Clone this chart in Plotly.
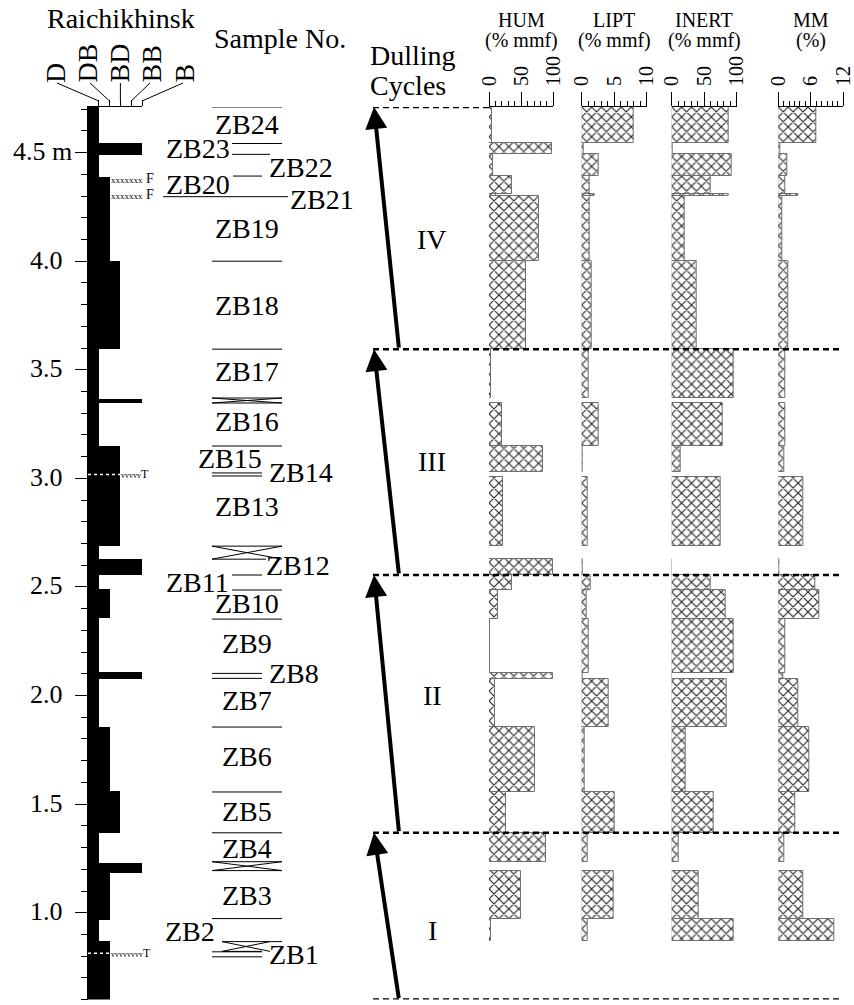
import plotly.graph_objects as go

W, H = 854, 1005
FONT = "'Liberation Serif', 'Times New Roman', Times, serif"

# ---------------------------------------------------------------- data
DEPTH_TOP = 4.71
DEPTH_BOTTOM = 0.60

# lithotype classes from dull to bright
LITHO_CLASSES = ["D", "DB", "BD", "BB", "B"]

litho_top = [4.710, 4.542, 4.490, 4.389, 4.000, 3.595, 3.367, 3.345, 3.149, 2.688, 2.628, 2.555,
             2.489, 2.355, 2.109, 2.076, 1.856, 1.562, 1.368, 1.230, 1.184, 0.966, 0.870]
litho_base = [4.542, 4.490, 4.389, 4.000, 3.595, 3.367, 3.345, 3.149, 2.688, 2.628, 2.555, 2.489,
              2.355, 2.109, 2.076, 1.856, 1.562, 1.368, 1.230, 1.184, 0.966, 0.870, 0.600]
litho_class = ["D", "B", "D", "DB", "BD", "D", "B", "D", "BD", "D", "B", "D",
               "DB", "D", "B", "D", "DB", "BD", "D", "B", "DB", "D", "DB"]

# analysed samples: interval (m) and maceral / mineral matter composition
samples = ["ZB24", "ZB23", "ZB22", "ZB20", "ZB21", "ZB19", "ZB18", "ZB17", "ZB16", "ZB15", "ZB13",
           "ZB12", "ZB11", "ZB10", "ZB9", "ZB8", "ZB7", "ZB6", "ZB5", "ZB4", "ZB3", "ZB2"]
sample_top = [4.710, 4.542, 4.492, 4.392, 4.308, 4.302, 4.000, 3.595, 3.347, 3.149, 3.007,
              2.628, 2.555, 2.486, 2.352, 2.104, 2.076, 1.855, 1.556, 1.368, 1.194, 0.973]
sample_base = [4.542, 4.492, 4.392, 4.308, 4.302, 4.000, 3.595, 3.370, 3.149, 3.029, 2.688,
               2.555, 2.486, 2.352, 2.104, 2.076, 1.855, 1.556, 1.368, 1.235, 0.973, 0.871]
hum = [4, 98, 6, 36, 11, 78, 57, 3, 20, 84, 22, 99, 36, 14, 2, 99, 10, 72, 26, 88, 50, 3]
lipt = [8.0, 0.3, 2.6, 1.3, 2.0, 1.2, 1.6, 1.0, 2.6, 0.2, 0.9, 0.1, 1.4, 0.8, 1.0, 0.1, 4.2, 0.5,
        5.0, 0.9, 4.9, 0.9]
inert = [87, 1, 92, 60, 87, 20.5, 39, 96, 78, 14, 75, 0.3, 60, 83.5, 96, 0.3, 85, 21.5, 64, 10,
         42, 96]
mm = [7.1, 0.3, 1.7, 1.2, 3.7, 0.8, 1.8, 1.2, 1.2, 1.1, 4.6, 0.1, 6.8, 7.6, 1.2, 0.9, 3.7, 5.7,
      3.1, 1.05, 4.7, 10.3]

# sample labels and their depth (m) in the sample column
label_names = ["ZB24", "ZB23", "ZB22", "ZB20", "ZB21", "ZB19", "ZB18", "ZB17", "ZB16", "ZB15",
               "ZB14", "ZB13", "ZB12", "ZB11", "ZB10", "ZB9", "ZB8", "ZB7", "ZB6", "ZB5", "ZB4",
               "ZB3", "ZB2", "ZB1"]
label_depth = [4.627, 4.516, 4.429, 4.350, 4.281, 4.148, 3.793, 3.489, 3.255, 3.089, 3.024, 2.867,
               2.596, 2.518, 2.417, 2.237, 2.099, 1.974, 1.716, 1.463, 1.293, 1.077, 0.907, 0.805]

# sample boundary lines (m) and unsampled partings (top, base, m)
boundary_depth = [4.710, 4.542, 4.492, 4.392, 4.297, 4.000, 3.595, 3.149, 3.025, 3.011, 2.555,
                  2.486, 2.352, 2.102, 2.079, 1.855, 1.556, 1.368, 0.973, 0.820, 0.797]
parting_top = [3.370, 2.688, 1.235, 0.867]
parting_base = [3.347, 2.628, 1.194, 0.822]

# depth axis labels
depth_ticks = [1.0, 1.5, 2.0, 2.5, 3.0, 3.5, 4.0, 4.5]
depth_tick_text = ["1.0", "1.5", "2.0", "2.5", "3.0", "3.5", "4.0", "4.5 m"]

# dulling cycles
cycle_names = ["IV", "III", "II", "I"]
cycle_top = [4.710, 3.595, 2.555, 1.368]
cycle_base = [3.595, 2.555, 1.368, 0.600]

# marker horizons: fusain (F) and tonstein (T)
fusain_depth = [4.381, 4.307]
tonstein_depth = [3.018, 0.813]

# ---------------------------------------------------------------- layout constants
Y_TOP_PX, Y_BOT_PX = 107.0, 999.6
Y_DOMAIN = [1 - Y_BOT_PX / H, 1 - Y_TOP_PX / H]
LITHO_X = (88.0, 142.0)
CLASS_INDEX = {c: i + 1 for i, c in enumerate(LITHO_CLASSES)}


def litho_px(k):
    return LITHO_X[0] + (LITHO_X[1] - LITHO_X[0]) * k / len(LITHO_CLASSES)


def mids(t, b):
    return [(a + c) / 2 for a, c in zip(t, b)]


def thick(t, b):
    return [max(a - c, 0.004) for a, c in zip(t, b)]


fig = go.Figure()

# canvas axes (pixel coordinates) for decorations
fig.add_trace(go.Scatter(x=[], y=[], xaxis="x6", yaxis="y6", showlegend=False, hoverinfo="skip"))

# lithology column
fig.add_trace(go.Bar(
    orientation="h", y=mids(litho_top, litho_base), width=thick(litho_top, litho_base),
    x=[CLASS_INDEX[c] for c in litho_class], base=0,
    marker=dict(color="black", line=dict(width=0)),
    xaxis="x", yaxis="y", showlegend=False, hoverinfo="skip"))

panels = [
    ("HUM", "(% mmf)", hum, 100, [0, 50, 100], 10, (489.0, 553.3), "x2"),
    ("LIPT", "(% mmf)", lipt, 10, [0, 5, 10], 1, (581.7, 646.7), "x3"),
    ("INERT", "(% mmf)", inert, 100, [0, 50, 100], 10, (671.7, 736.7), "x4"),
    ("MM", "(%)", mm, 12, [0, 6, 12], 1, (778.3, 843.3), "x5"),
]

hatch = dict(shape="x", fgcolor="#262626", bgcolor="white", size=7, solidity=0.3, fillmode="replace")

for name, unit, vals, vmax, ticks, mdt, (px0, px1), xa in panels:
    fig.add_trace(go.Bar(
        orientation="h", y=mids(sample_top, sample_base), width=thick(sample_top, sample_base),
        x=vals, base=0,
        marker=dict(color="white", pattern=hatch, line=dict(color="#707070", width=1)),
        xaxis=xa, yaxis="y", showlegend=False, hoverinfo="skip"))
    cx = (px0 + px1) / 2
    fig.add_annotation(x=cx, y=20, xref="x6", yref="y6", text=name, showarrow=False,
                       font=dict(family=FONT, size=20, color="black"))
    fig.add_annotation(x=cx, y=40, xref="x6", yref="y6", text=unit, showarrow=False,
                       font=dict(family=FONT, size=20, color="black"))
    fig.layout[xa.replace("x", "xaxis")] = dict(
        domain=[px0 / W, px1 / W], range=[0, vmax], side="top", anchor="y", automargin=False,
        showline=True, linecolor="black", linewidth=1,
        ticks="outside", ticklen=14, tickwidth=1, tickcolor="black",
        tickmode="array", tickvals=ticks, ticktext=[str(t) for t in ticks], tickangle=-90,
        ticklabelstandoff=2,
        tickfont=dict(family=FONT, size=20, color="black"),
        minor=dict(ticks="outside", dtick=mdt, tick0=0, ticklen=5, tickwidth=1, tickcolor="black"),
        showgrid=False, zeroline=False, fixedrange=True)

# ---------------------------------------------------------------- axes
fig.update_layout(
    template="none",
    width=W, height=H, margin=dict(l=0, r=0, t=0, b=0, pad=0, autoexpand=False),
    paper_bgcolor="white", plot_bgcolor="rgba(0,0,0,0)",
    font=dict(family=FONT, color="black"),
    barmode="overlay", bargap=0, showlegend=False,
    xaxis=dict(domain=[LITHO_X[0] / W, LITHO_X[1] / W], range=[0, len(LITHO_CLASSES)],
               side="top", anchor="y", automargin=False,
               showline=True, linecolor="black", linewidth=1,
               ticks="outside", ticklen=6, tickcolor="black", tickmode="array",
               tickvals=list(range(1, 6)), showticklabels=False,
               showgrid=False, zeroline=False, fixedrange=True),
    yaxis=dict(domain=Y_DOMAIN, range=[DEPTH_BOTTOM, DEPTH_TOP], anchor="x", automargin=False,
               showline=True, linecolor="black", linewidth=1,
               ticks="outside", ticklen=12, tickwidth=1, tickcolor="black",
               tickmode="array", tickvals=depth_ticks, showticklabels=False,
               minor=dict(ticks="outside", dtick=0.1, tick0=0, ticklen=6, tickwidth=1,
                          tickcolor="black"),
               showgrid=False, zeroline=False, fixedrange=True),
    xaxis6=dict(domain=[0, 1], range=[0, W], anchor="y6", visible=False, fixedrange=True,
                automargin=False),
    yaxis6=dict(domain=[0, 1], range=[H, 0], anchor="x6", visible=False, fixedrange=True,
                automargin=False),
)


def text(x, y, s, size=28, xanchor="center", yanchor="middle", angle=0, yref="y6", yshift=0):
    fig.add_annotation(x=x, y=y, xref="x6", yref=yref, text=s, showarrow=False,
                       font=dict(family=FONT, size=size, color="black"),
                       xanchor=xanchor, yanchor=yanchor, textangle=angle, yshift=yshift,
                       borderpad=0)


def seg(x0, y0, x1, y1, yref="y6", color="black", width=1, dash="solid"):
    fig.add_shape(type="line", x0=x0, y0=y0, x1=x1, y1=y1, xref="x6", yref=yref,
                  line=dict(color=color, width=width, dash=dash), layer="above")


# depth labels beside the column axis
for v, s in zip(depth_ticks, depth_tick_text):
    text(73 if s.endswith("m") else 64, v, s, size=26, xanchor="right", yref="y", yshift=1)

# ---------------------------------------------------------------- titles
text(121, 18, "Raichikhinsk")
text(213, 38, "Sample No.", xanchor="left")
text(369, 55, "Dulling", xanchor="left")
text(369, 85, "Cycles", xanchor="left")

# lithotype legend with leader lines to the column
legend_x = [55, 87, 119, 151, 184]
leader_x = [57, 90, 120.4, 150, 183]
for i, c in enumerate(LITHO_CLASSES):
    text(legend_x[i], 84, c, angle=-90, yanchor="bottom")
    seg(leader_x[i], 83, litho_px(i + 1), 101)

# fusain and tonstein horizons
for d in fusain_depth:
    text(110, d, "<span style='font-size:9px'>xxxxxxx</span> F", size=14, xanchor="left",
         yref="y")
for d in tonstein_depth:
    k = max(CLASS_INDEX[c] for c, t, b in zip(litho_class, litho_top, litho_base) if b <= d <= t)
    edge = litho_px(k)
    seg(LITHO_X[0], d, edge, d, yref="y", color="white", width=1.5, dash="dot")
    nv = int(round((LITHO_X[1] - edge) / 4.0))
    text(edge, d, "<span style='font-size:8px'>" + "v" * nv + "</span>T", size=12,
         xanchor="left", yref="y")

# ---------------------------------------------------------------- sample column
label_layout = {
    "ZB23": ("right", 231), "ZB20": ("right", 231), "ZB11": ("right", 230), "ZB2": ("right", 216),
    "ZB22": ("left", 268), "ZB21": ("left", 289), "ZB14": ("left", 268), "ZB12": ("left", 265),
    "ZB8": ("left", 268), "ZB1": ("left", 268), "ZB15": ("center", 230),
}
for n, d in zip(label_names, label_depth):
    side, x = label_layout.get(n, ("center", 247))
    text(x, d, n, xanchor=side, yref="y", yshift=1)

line_extent = {4.542: (232, 282), 4.492: (232, 270), 4.392: (233, 262), 4.297: (163, 288),
               3.025: (212, 262), 3.011: (212, 262), 2.555: (232, 262), 2.486: (232, 282),
               2.102: (212, 262), 2.079: (212, 262), 0.820: (212, 262), 0.797: (212, 262)}
for d in boundary_depth:
    x0, x1 = line_extent.get(d, (212, 282))
    seg(x0, d, x1, d, yref="y")

parting_extent = [(212, 282, 282, 282), (212, 282, 282, 266), (212, 282, 282, 282),
                  (222, 270, 282, 262)]
for t, b, (x0, x1, xt, xb) in zip(parting_top, parting_base, parting_extent):
    seg(x0, t, xt, t, yref="y")
    seg(x0, b, xb, b, yref="y")
    seg(x0, t, x1, b, yref="y")
    seg(x0, b, x1, t, yref="y")

# ---------------------------------------------------------------- dulling cycles
bounds = sorted(set(cycle_top + cycle_base), reverse=True)
for d in bounds:
    x1 = 489 if d == max(bounds) else 843
    seg(373, d, x1, d, yref="y", width=2.5, dash="6px,4px")

cycle_label_depth = [4.10, 3.08, 2.00, 0.92]
for n, t, b, ld in zip(cycle_names, cycle_top, cycle_base, cycle_label_depth):
    fig.add_annotation(x=374, y=t, xref="x6", yref="y", ax=399, ay=b, axref="x6", ayref="y",
                       text="", showarrow=True, arrowhead=2, arrowsize=1.1, arrowwidth=4,
                       arrowcolor="black", standoff=0)
    text(432, ld, n, yref="y")

fig.write_html("out.html")
